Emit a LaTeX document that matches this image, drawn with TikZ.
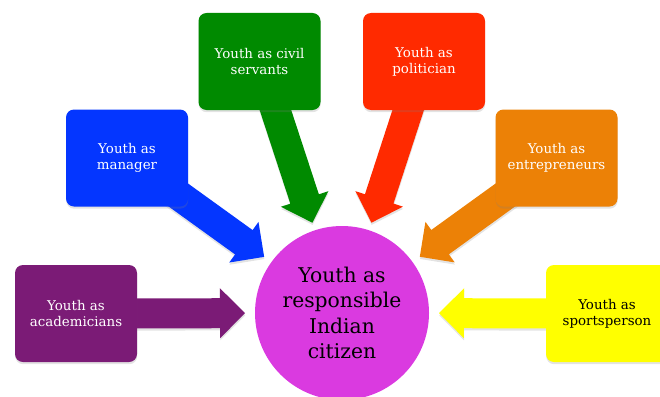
\documentclass[tikz,border=0pt]{standalone}
\usepackage{fontspec}
\setmainfont{DejaVu Serif}
\usetikzlibrary{calc,shadows,backgrounds}
\definecolor{cpurple}{HTML}{7B1B76}
\definecolor{cblue}{HTML}{0436FF}
\definecolor{cgreen}{HTML}{008A00}
\definecolor{cred}{HTML}{FF2A00}
\definecolor{corange}{HTML}{EC8106}
\definecolor{cyellow}{HTML}{FFFF00}
\definecolor{cmag}{HTML}{DA3AE0}
\tikzset{
  box/.style={rectangle, rounded corners=8pt, minimum width=122pt, minimum height=97pt,
    inner sep=2pt, text=white, align=center, font=\fontsize{13.4}{16}\selectfont,
    drop shadow={shadow xshift=0.2pt, shadow yshift=-2.2pt, opacity=0.22}},
  hub/.style={circle, fill=cmag, minimum size=174pt, inner sep=0pt, align=center,
    font=\fontsize{20.3}{25.5}\selectfont},
  fat/.style={drop shadow={shadow xshift=0.2pt, shadow yshift=-2.2pt, opacity=0.22}}
}
\newcommand\fatarrow[3]{%
  \coordinate (fa-c) at ($(#3)!25pt!(#2)$);
  \fill[fat, #1] ($(#2)!15pt!90:(#3)$) -- ($(fa-c)!15pt!90:(#3)$) -- ($(fa-c)!25pt!90:(#3)$)
    -- (#3) -- ($(fa-c)!25pt!-90:(#3)$) -- ($(fa-c)!15pt!-90:(#3)$) -- ($(#2)!15pt!-90:(#3)$) -- cycle;}
\begin{document}
\begin{tikzpicture}[x=1pt, y=-1pt]
\useasboundingbox (0,0) rectangle (660,396);
\clip (0,0) rectangle (660,396);
\node[hub] (hub) at (342,313) {Youth as\\responsible\\Indian\\citizen};
\node[box, fill=cpurple] (acad) at (76,313.5) {Youth as\\academicians};
\node[box, fill=cblue] (mgr) at (127,158) {Youth as\\manager};
\node[box, fill=cgreen] (civ) at (259.5,61.5) {Youth as civil\\servants};
\node[box, fill=cred] (pol) at (424,61.5) {Youth as\\politician};
\node[box, fill=corange] (ent) at (556.5,158) {Youth as\\entrepreneurs};
\node[box, fill=cyellow, text=black] (spo) at (607,313.5) {Youth as\\sportsperson};
\coordinate (t1) at ($(hub.center)!97pt!(acad.center)$);
\coordinate (t2) at ($(hub.center)!96pt!(mgr.center)$);
\coordinate (t3) at ($(hub.center)!95pt!(civ.center)$);
\coordinate (t4) at ($(hub.center)!95pt!(pol.center)$);
\coordinate (t5) at ($(hub.center)!96pt!(ent.center)$);
\coordinate (t6) at ($(hub.center)!97pt!(spo.center)$);
\begin{pgfonlayer}{background}
\fatarrow{cpurple}{acad.center}{t1}
\fatarrow{cblue}{mgr.center}{t2}
\fatarrow{cgreen}{civ.center}{t3}
\fatarrow{cred}{pol.center}{t4}
\fatarrow{corange}{ent.center}{t5}
\fatarrow{cyellow}{spo.center}{t6}
\end{pgfonlayer}
\end{tikzpicture}
\end{document}
